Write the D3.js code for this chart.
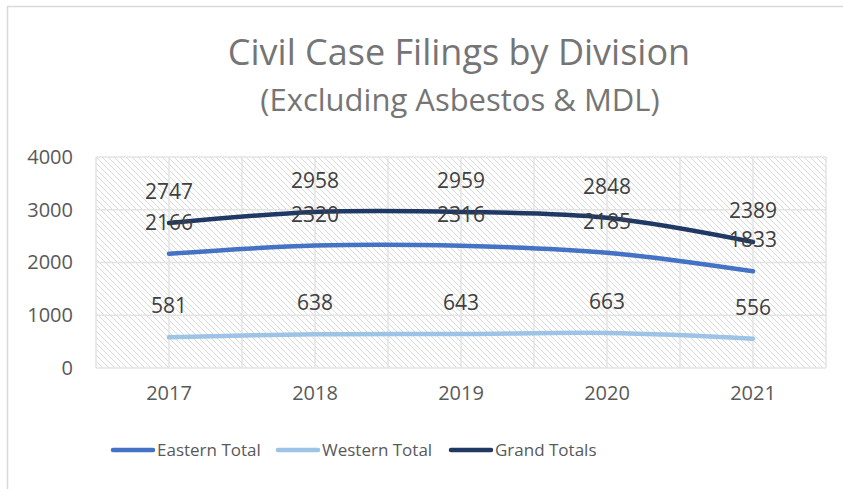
<!DOCTYPE html>
<html>
<head>
<meta charset="utf-8">
<script src="https://cdn.jsdelivr.net/npm/d3@7"></script>
<style>
  body { margin: 0; background: #fff; }
  text { font-family: "Open Sans", "Noto Sans", sans-serif; }
</style>
</head>
<body>
<div id="chart"></div>
<script>
// data
var years = ["2017", "2018", "2019", "2020", "2021"];
var eastern = [2166, 2320, 2316, 2185, 1833];
var western = [581, 638, 643, 663, 556];
var grand = [2747, 2958, 2959, 2848, 2389];
var yTicks = [0, 1000, 2000, 3000, 4000];
var seriesNames = ["Eastern Total", "Western Total", "Grand Totals"];
var seriesColors = ["#4472c4", "#9dc3e6", "#203864"];

var W = 843, H = 489;
var margin = {top: 157, right: 17, bottom: 121, left: 96},
    width = W - margin.left - margin.right,
    height = H - margin.top - margin.bottom;

var svg = d3.select("#chart")
  .append("svg")
  .attr("width", W)
  .attr("height", H);

// hatch pattern
var defs = svg.append("defs");
var pat = defs.append("pattern")
  .attr("id", "hatch")
  .attr("patternUnits", "userSpaceOnUse")
  .attr("width", 6)
  .attr("height", 6);
pat.append("rect").attr("width", 6).attr("height", 6).attr("fill", "#fff");
pat.append("path")
  .attr("d", "M-1,-1 L7,7 M-4,2 L2,8 M4,-2 L8,2")
  .attr("stroke", "#d9d9d9")
  .attr("stroke-width", 1);

// outer border (chart is cropped on the right and bottom)
svg.append("path")
  .attr("d", "M7.5,489 L7.5,6.5 L843,6.5")
  .attr("fill", "none")
  .attr("stroke", "#d9d9d9")
  .attr("stroke-width", 1.5);

// title
svg.append("text")
  .attr("x", 459).attr("y", 65)
  .attr("text-anchor", "middle")
  .attr("fill", "#757575")
  .style("font-size", "36px")
  .text("Civil Case Filings by Division");
svg.append("text")
  .attr("x", 460).attr("y", 111)
  .attr("text-anchor", "middle")
  .attr("fill", "#757575")
  .style("font-size", "31px")
  .text("(Excluding Asbestos & MDL)");

var g = svg.append("g")
  .attr("transform", `translate(${margin.left},${margin.top})`);

var x = d3.scaleBand().domain(years).range([0, width]);
var y = d3.scaleLinear().domain([0, 4000]).range([height, 0]);

// plot background
g.append("rect")
  .attr("width", width).attr("height", height)
  .attr("fill", "url(#hatch)");

// gridlines: horizontal
g.selectAll(".hgrid")
  .data(yTicks)
  .enter().append("line")
  .attr("x1", 0).attr("x2", width)
  .attr("y1", d => y(d)).attr("y2", d => y(d))
  .attr("stroke", "#e3e3e3").attr("stroke-width", 1.5);

// gridlines: vertical, at band edges and centres
var vlines = [];
years.forEach(function(yr) {
  vlines.push(x(yr));
  vlines.push(x(yr) + x.bandwidth() / 2);
});
vlines.push(width);
g.selectAll(".vgrid")
  .data(vlines)
  .enter().append("line")
  .attr("x1", d => d).attr("x2", d => d)
  .attr("y1", 0).attr("y2", height)
  .attr("stroke", "#e3e3e3").attr("stroke-width", 1.5);

// y axis
var yAxis = d3.axisLeft(y).tickValues(yTicks).tickSize(0).tickPadding(23).tickFormat(d3.format("d"));
g.append("g")
  .call(yAxis)
  .call(a => a.select(".domain").remove())
  .selectAll("text")
  .attr("fill", "#595959")
  .style("font-size", "20px");

// x axis
var xAxis = d3.axisBottom(x).tickSize(0).tickPadding(18);
g.append("g")
  .attr("transform", `translate(0,${height})`)
  .call(xAxis)
  .call(a => a.select(".domain").remove())
  .selectAll("text")
  .attr("fill", "#595959")
  .style("font-size", "20px");

// lines
var allSeries = [eastern, western, grand];
var line = d3.line()
  .x((d, i) => x(years[i]) + x.bandwidth() / 2)
  .y(d => y(d))
  .curve(d3.curveCatmullRom.alpha(0.5));

allSeries.forEach(function(vals, si) {
  g.append("path")
    .datum(vals)
    .attr("fill", "none")
    .attr("stroke", seriesColors[si])
    .attr("stroke-width", 4.5)
    .attr("stroke-linecap", "round")
    .attr("d", line);
});

// data labels
allSeries.forEach(function(vals, si) {
  g.selectAll(".lbl" + si)
    .data(vals)
    .enter().append("text")
    .attr("x", (d, i) => x(years[i]) + x.bandwidth() / 2)
    .attr("y", d => y(d) - 24)
    .attr("text-anchor", "middle")
    .attr("fill", "#404040")
    .style("font-size", "21px")
    .text(d => d);
});

// legend
var legendX = [113, 278, 451];
var leg = svg.selectAll(".legend")
  .data(seriesNames)
  .enter().append("g")
  .attr("transform", (d, i) => `translate(${legendX[i]},450)`);
leg.append("line")
  .attr("x1", 0).attr("x2", 40)
  .attr("stroke", (d, i) => seriesColors[i])
  .attr("stroke-width", 4.5)
  .attr("stroke-linecap", "round");
leg.append("text")
  .attr("x", 44).attr("y", 6)
  .attr("fill", "#595959")
  .style("font-size", "17px")
  .text(d => d);
</script>
</body>
</html>
